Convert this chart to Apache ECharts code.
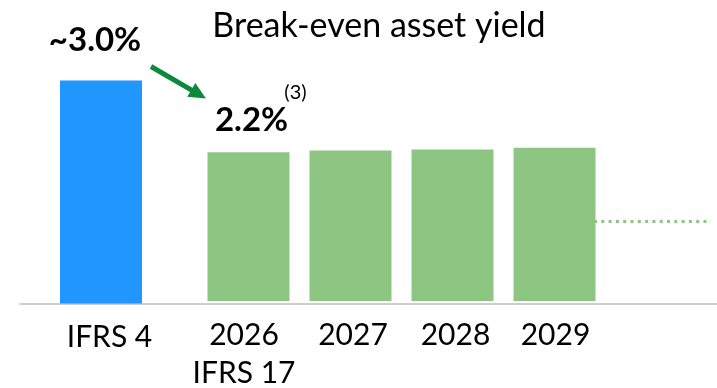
<!DOCTYPE html>
<html>
<head>
<meta charset="utf-8">
<script src="https://cdn.jsdelivr.net/npm/echarts@6/dist/echarts.min.js"></script>
<style>
  html, body { margin: 0; padding: 0; background: #fff; }
  #chart { width: 717px; height: 388px; }
</style>
</head>
<body>
<div id="chart"></div>
<script>
// Break-even asset yield: IFRS 4 level versus IFRS 17 outlook (in %)
const baseCategories = ['IFRS 4'];
const baseValues = [3.0];
const forecastCategories = ['2026', '2027', '2028', '2029'];
const forecastValues = [2.2, 2.22, 2.23, 2.25];
const forecastSubLabels = ['IFRS 17', '', '', ''];
const trendValues = [1.45, 1.45];
const trendCategories = ['a', 'b'];

const FONT = 'Lato, "Open Sans", sans-serif';
const BLUE = '#2196FE';
const GREEN = '#8DC583';
const ARROW = '#0B8A3C';

const gridTop = 35;
const gridBottom = 84.5;

// small horizontal nudges of the tick labels under each forecast bar (px)
const tickNudge = [-4.5, 2.5, 3, 1];

const hiddenY = (gi) => ({
  type: 'value', gridIndex: gi, min: 0.55, max: 3.5, show: false
});

const tickText = { fontFamily: FONT, fontSize: 30, color: '#000', lineHeight: 38 };

const nudged = (dx) => Object.assign({
  padding: dx >= 0 ? [0, 0, 0, 2 * dx] : [0, -2 * dx, 0, 0]
}, tickText);

const forecastRich = {};
tickNudge.forEach((dx, i) => { forecastRich['t' + i] = nudged(dx); });

const chart = echarts.init(document.getElementById('chart'), null, { renderer: 'canvas' });

chart.setOption({
  animation: false,
  title: {
    text: 'Break-even asset yield',
    left: 374, top: 4, textAlign: 'center',
    textStyle: { fontFamily: FONT, fontSize: 34, fontWeight: 'normal', color: '#000' }
  },
  grid: [
    { left: 50, width: 102, top: gridTop, bottom: gridBottom },   // IFRS 4 bar
    { left: 197.5, width: 408, top: gridTop, bottom: gridBottom }, // 2026-2029 bars
    { left: 594, width: 117, top: gridTop, bottom: gridBottom },   // dotted continuation
    { left: 20, right: 0, top: gridTop, bottom: gridBottom }      // shared baseline
  ],
  xAxis: [
    {
      type: 'category', gridIndex: 0, data: baseCategories,
      axisLine: { show: false }, axisTick: { show: false },
      axisLabel: {
        margin: 15, interval: 0,
        formatter: (v) => '{a|' + v + '}',
        rich: { a: nudged(8.5) }
      }
    },
    {
      type: 'category', gridIndex: 1, data: forecastCategories,
      axisLine: { show: false }, axisTick: { show: false },
      axisLabel: {
        margin: 15, interval: 0,
        formatter: (v, i) => {
          const tag = 't' + i;
          let s = '{' + tag + '|' + v + '}';
          if (forecastSubLabels[i]) s += '\n{' + tag + '|' + forecastSubLabels[i] + '}';
          return s;
        },
        rich: forecastRich
      }
    },
    {
      type: 'category', gridIndex: 2, data: trendCategories, boundaryGap: false, show: false
    },
    {
      type: 'value', gridIndex: 3, min: 0, max: 1,
      axisLine: { show: true, lineStyle: { color: '#BFBFBF', width: 1.5 } },
      axisTick: { show: false }, axisLabel: { show: false }, splitLine: { show: false }
    }
  ],
  yAxis: [hiddenY(0), hiddenY(1), hiddenY(2), hiddenY(3)],
  series: [
    {
      type: 'bar', xAxisIndex: 0, yAxisIndex: 0, data: baseValues,
      barWidth: 82, itemStyle: { color: BLUE },
      label: {
        show: true, position: 'top', distance: 24, offset: [-6, 0],
        formatter: (p) => '~' + p.value.toFixed(1) + '%',
        fontFamily: FONT, fontSize: 33, fontWeight: 'bold', color: '#000'
      }
    },
    {
      type: 'bar', xAxisIndex: 1, yAxisIndex: 1,
      data: forecastValues.map((v, i) => i === 0 ? {
        value: v,
        label: {
          show: true, position: 'top', distance: 15, offset: [3, 0],
          formatter: (p) => '{s|(3)}\n{v|' + p.value.toFixed(1) + '%}',
          rich: {
            s: { fontFamily: FONT, fontSize: 20, color: '#000', lineHeight: 21, padding: [0, 0, 0, 88] },
            v: { fontFamily: FONT, fontSize: 33, fontWeight: 'bold', color: '#000', lineHeight: 34 }
          }
        }
      } : v),
      barWidth: 82, itemStyle: { color: GREEN }
    },
    {
      type: 'line', xAxisIndex: 2, yAxisIndex: 2, data: trendValues,
      symbol: 'none',
      lineStyle: { color: GREEN, width: 3, type: [3, 4.3], cap: 'butt' }
    }
  ],
  graphic: [
    {
      type: 'group',
      children: [
        {
          type: 'line',
          shape: { x1: 151, y1: 66.5, x2: 192, y2: 90.3 },
          style: { stroke: ARROW, lineWidth: 5 }
        },
        {
          type: 'polygon',
          shape: { points: [[206, 98.5], [187.3, 96.8], [195.3, 83.0]] },
          style: { fill: ARROW }
        }
      ]
    }
  ]
});
</script>
</body>
</html>
